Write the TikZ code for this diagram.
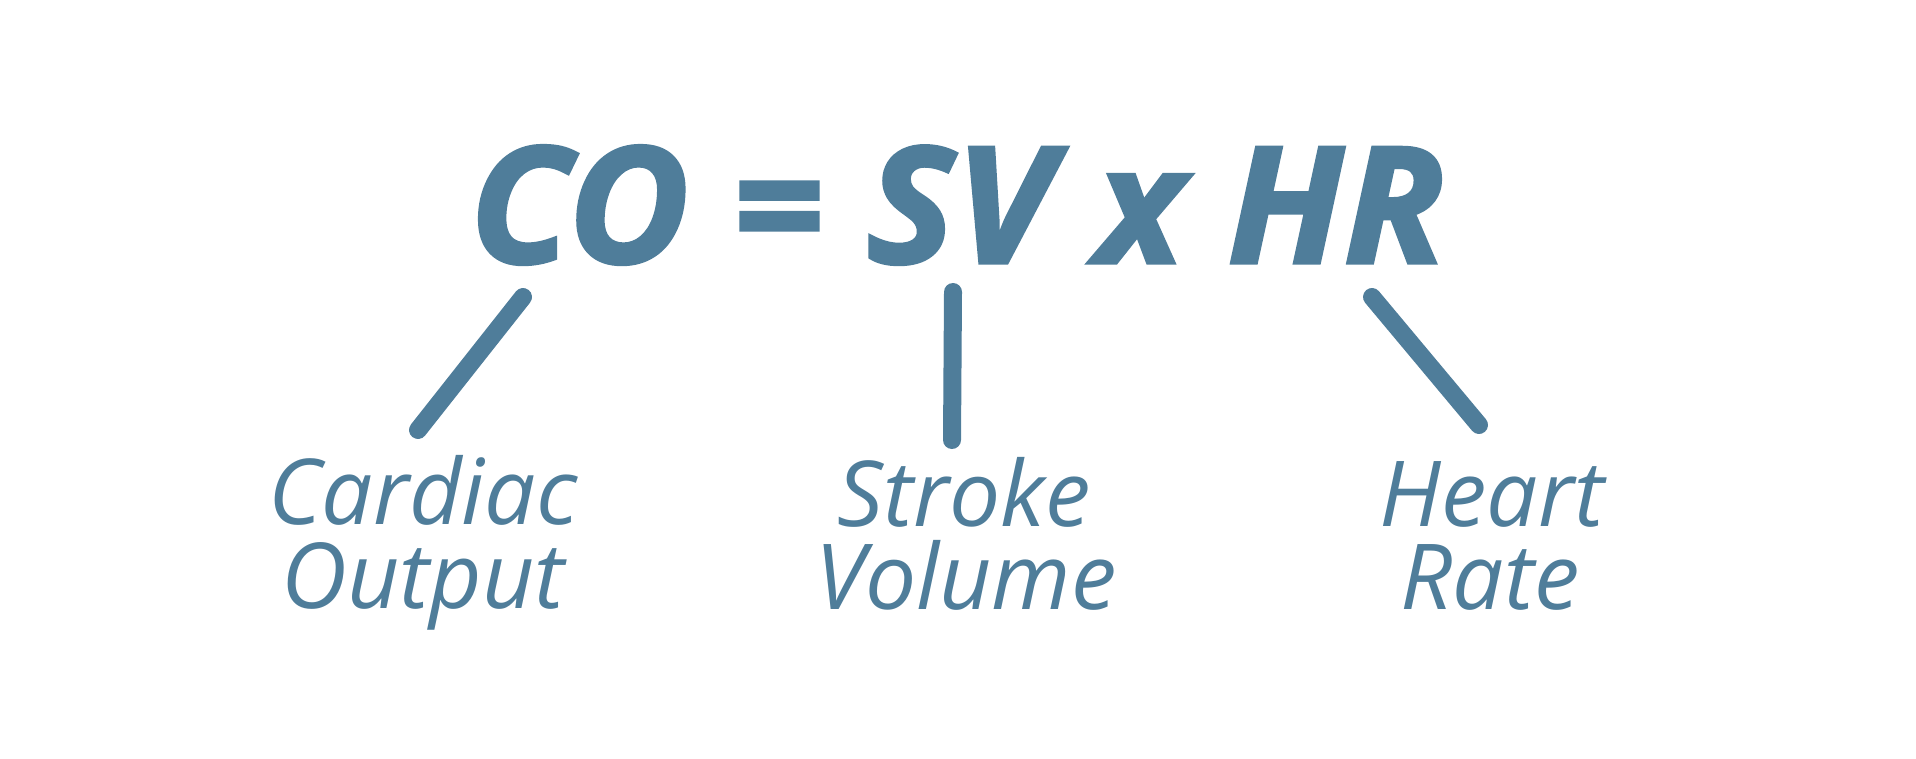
\documentclass[tikz,border=0pt]{standalone}
\usepackage{fontspec}
\setmainfont{Open Sans}
\newfontfamily\heavyfont{Open Sans}[BoldItalicFeatures={FakeBold=2,FakeStretch=1.025}]
\definecolor{steel}{RGB}{79,125,154}
\begin{document}
\begin{tikzpicture}[x=1pt,y=1pt,
  title/.style={anchor=base,inner sep=0pt,text=steel,font=\fontsize{162}{162}\selectfont\heavyfont\bfseries\itshape},
  lbl/.style={anchor=base,inner sep=0pt,text=steel,font=\fontsize{91}{91}\selectfont\itshape},
  link/.style={draw=steel,line width=18pt,line cap=round}]
\useasboundingbox (0,0) rectangle (1916,-759);
\node[title] (eq) at (957,-263) {CO = SV x HR};
\node[lbl] (co1) at (423,-524) {Cardiac};
\node[lbl] (co2) at (423,-608) {Output};
\node[lbl] (sv1) at (964,-526) {Stroke};
\node[lbl] (sv2) at (966,-609) {Volume};
\node[lbl] (hr1) at (1492,-526) {Heart};
\node[lbl] (hr2) at (1490,-609) {Rate};
\coordinate (a1) at (523,-297);
\coordinate (a2) at (418,-430);
\coordinate (b1) at (953,-292);
\coordinate (b2) at (952,-440);
\coordinate (c1) at (1372,-297);
\coordinate (c2) at (1479,-425);
\draw[link] (a1) -- (a2);
\draw[link] (b1) -- (b2);
\draw[link] (c1) -- (c2);
\end{tikzpicture}
\end{document}
